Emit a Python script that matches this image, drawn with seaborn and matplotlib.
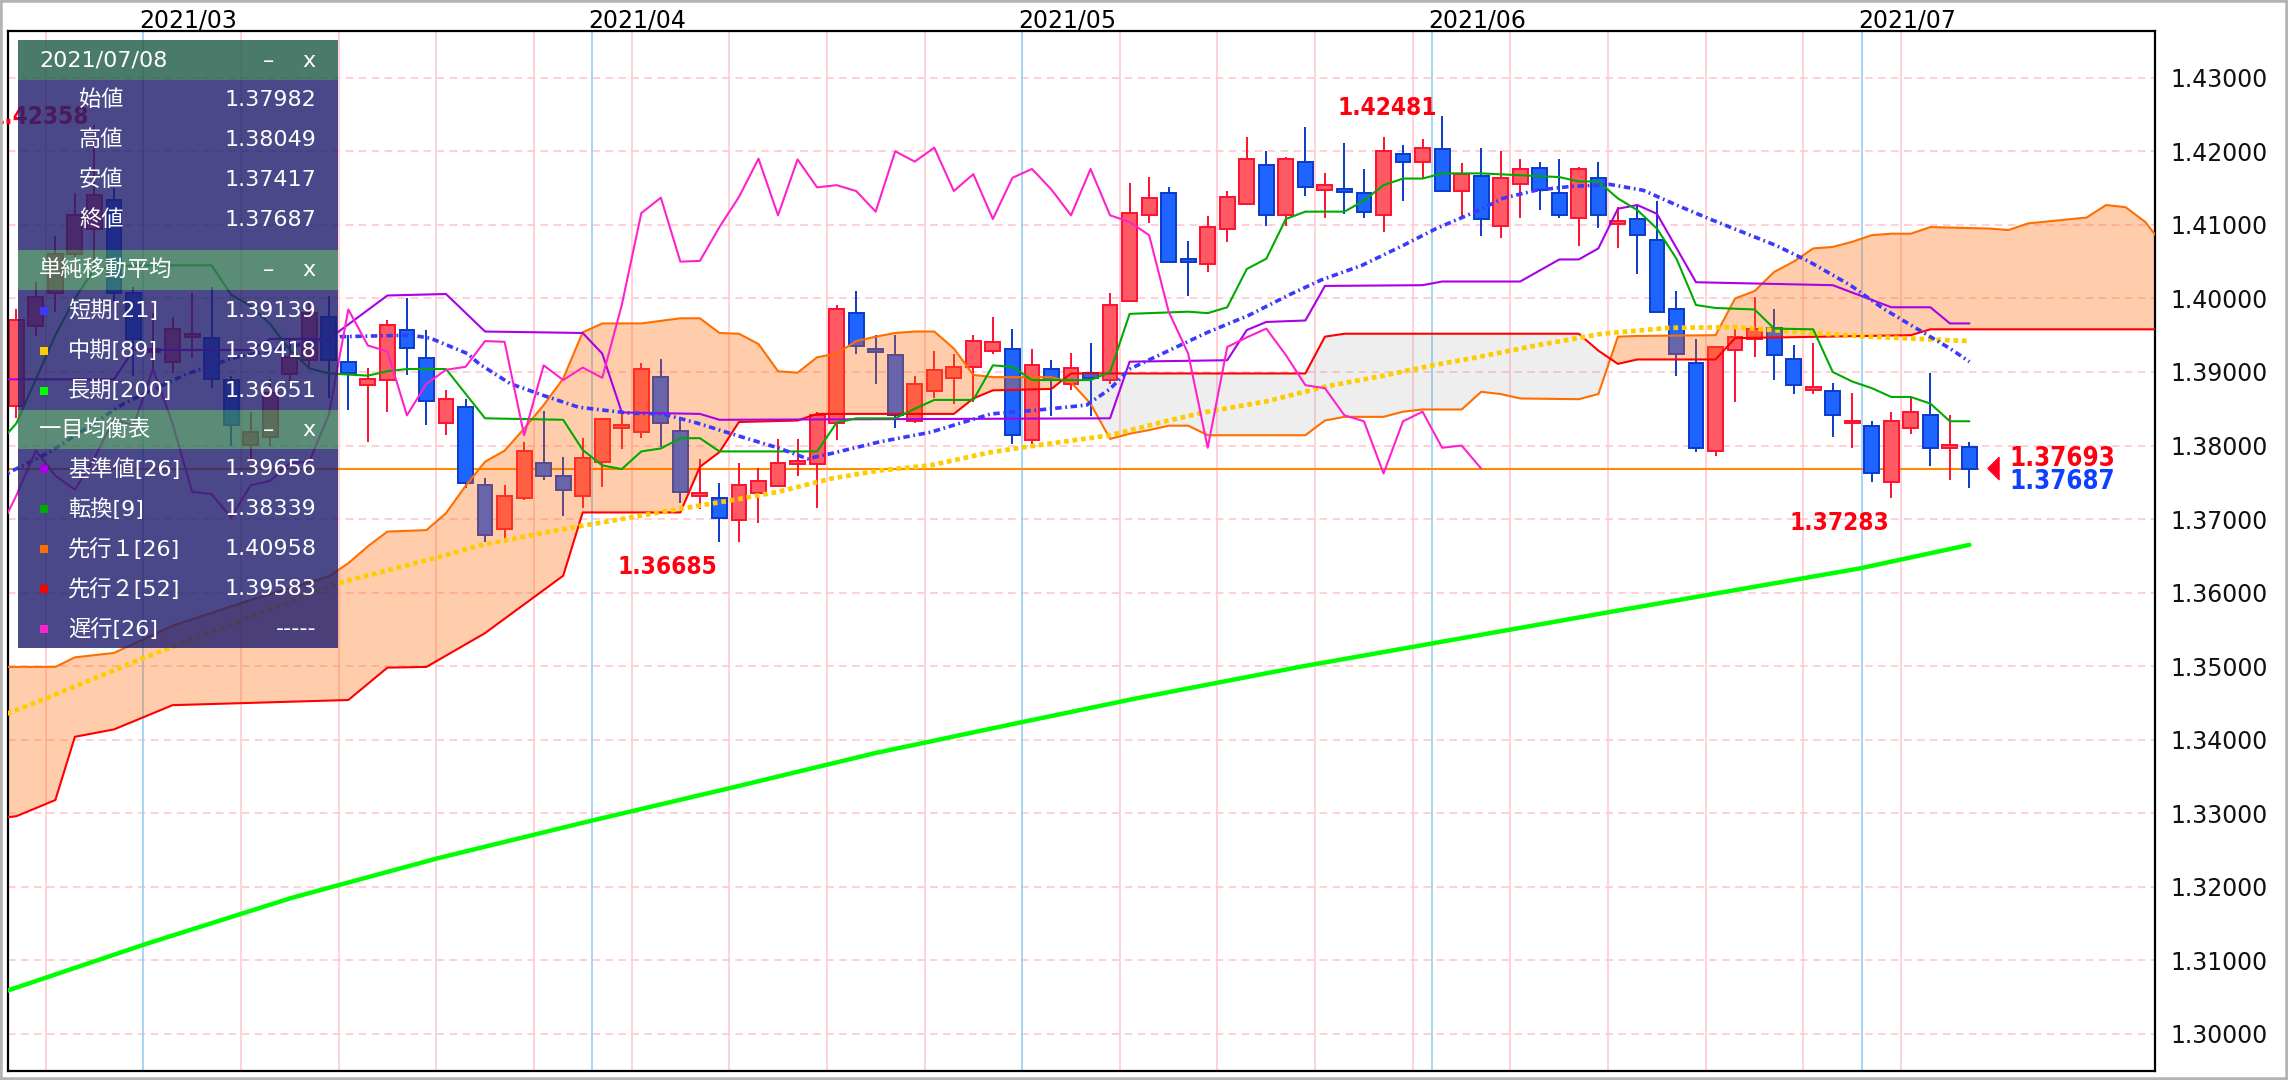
import numpy as np
import pandas as pd
import matplotlib
matplotlib.use("Agg")
import matplotlib.pyplot as plt
from matplotlib.patches import Rectangle
from matplotlib.path import Path
from matplotlib.ticker import FormatStrFormatter
from matplotlib.transforms import blended_transform_factory
import seaborn as sns

# ---------------- data (daily candles, 2021-02-18 .. 2021-07-08) ----------------
dates = pd.bdate_range("2021-02-18", "2021-07-08")

opens = [
    1.3854, 1.3963, 1.4008, 1.4060, 1.4095, 1.4134, 1.4008, 1.3927, 1.3914, 1.3948,
    1.3946, 1.3889, 1.3801, 1.3811, 1.3897, 1.3916, 1.3975, 1.3913, 1.3882, 1.3889,
    1.3957, 1.3919, 1.3831, 1.3853, 1.3746, 1.3686, 1.3729, 1.3776, 1.3759, 1.3731,
    1.3778, 1.3825, 1.3818, 1.3893, 1.3820, 1.3733, 1.3729, 1.3699, 1.3735, 1.3745,
    1.3776, 1.3775, 1.3831, 1.3980, 1.3930, 1.3923, 1.3833, 1.3874, 1.3892, 1.3907,
    1.3928, 1.3931, 1.3808, 1.3904, 1.3883, 1.3898, 1.3889, 1.3996, 1.4113, 1.4143,
    1.4052, 1.4047, 1.4094, 1.4129, 1.4181, 1.4113, 1.4186, 1.4148, 1.4147, 1.4143,
    1.4113, 1.4197, 1.4186, 1.4203, 1.4146, 1.4167, 1.4099, 1.4156, 1.4178, 1.4143,
    1.4110, 1.4164, 1.4102, 1.4108, 1.4080, 1.3985, 1.3912, 1.3792, 1.3930, 1.3945,
    1.3960, 1.3917, 1.3876, 1.3874, 1.3831, 1.3827, 1.3750, 1.3824, 1.3841, 1.3798,
    1.37982]
highs = [
    1.3986, 1.4022, 1.4085, 1.4143, 1.42358, 1.4150, 1.4016, 1.3980, 1.3975, 1.4007,
    1.4016, 1.3895, 1.3845, 1.3890, 1.3945, 1.3995, 1.4003, 1.3950, 1.3905, 1.3971,
    1.4000, 1.3957, 1.3876, 1.3863, 1.3756, 1.3746, 1.3805, 1.3847, 1.3784, 1.3810,
    1.3837, 1.3846, 1.3912, 1.3918, 1.3839, 1.3782, 1.3749, 1.3776, 1.3769, 1.3809,
    1.3809, 1.3846, 1.3991, 1.4010, 1.3950, 1.3950, 1.3895, 1.3929, 1.3924, 1.3950,
    1.3975, 1.3959, 1.3931, 1.3916, 1.3926, 1.3940, 1.4008, 1.4157, 1.4165, 1.4152,
    1.4078, 1.4112, 1.4146, 1.4220, 1.4201, 1.4192, 1.4233, 1.4171, 1.4211, 1.4176,
    1.4220, 1.4209, 1.4217, 1.42481, 1.4184, 1.4204, 1.4201, 1.4190, 1.4185, 1.4190,
    1.4179, 1.4185, 1.4124, 1.4127, 1.4133, 1.4010, 1.3945, 1.3936, 1.3963, 1.4002,
    1.3986, 1.3937, 1.3939, 1.3885, 1.3871, 1.3833, 1.3845, 1.3864, 1.3899, 1.3841,
    1.38049]
lows = [
    1.3837, 1.3949, 1.3982, 1.4040, 1.4046, 1.3995, 1.3895, 1.3898, 1.3898, 1.3919,
    1.3878, 1.3799, 1.3780, 1.3800, 1.3880, 1.3905, 1.3864, 1.3848, 1.3805, 1.3846,
    1.3896, 1.3828, 1.3814, 1.3742, 1.3669, 1.3670, 1.3726, 1.3753, 1.3704, 1.3715,
    1.3744, 1.3795, 1.3810, 1.3798, 1.3722, 1.3714, 1.36685, 1.3669, 1.3694, 1.3744,
    1.3758, 1.3715, 1.3807, 1.3925, 1.3883, 1.3824, 1.3830, 1.3865, 1.3857, 1.3859,
    1.3925, 1.3802, 1.3802, 1.3840, 1.3875, 1.3840, 1.3883, 1.3996, 1.4103, 1.4050,
    1.4003, 1.4036, 1.4077, 1.4129, 1.4099, 1.4099, 1.4139, 1.4109, 1.4115, 1.4109,
    1.4090, 1.4133, 1.4163, 1.4146, 1.4108, 1.4085, 1.4082, 1.4109, 1.4120, 1.4110,
    1.4071, 1.4096, 1.4069, 1.4033, 1.3982, 1.3895, 1.3791, 1.3786, 1.3859, 1.3921,
    1.3889, 1.3870, 1.3870, 1.3812, 1.3797, 1.3750, 1.37283, 1.3816, 1.3772, 1.3753,
    1.37417]
closes = [
    1.3971, 1.4002, 1.4060, 1.4114, 1.4140, 1.4008, 1.3945, 1.3931, 1.3959, 1.3952,
    1.3891, 1.3828, 1.3819, 1.3871, 1.3920, 1.3980, 1.3916, 1.3898, 1.3891, 1.3964,
    1.3932, 1.3861, 1.3863, 1.3749, 1.3678, 1.3732, 1.3793, 1.3759, 1.3740, 1.3783,
    1.3836, 1.3827, 1.3904, 1.3830, 1.3737, 1.3734, 1.3702, 1.3746, 1.3752, 1.3776,
    1.3778, 1.3842, 1.3985, 1.3936, 1.3928, 1.3841, 1.3884, 1.3903, 1.3907, 1.3942,
    1.3941, 1.3814, 1.3909, 1.3889, 1.3906, 1.3892, 1.3991, 1.4116, 1.4137, 1.4050,
    1.4051, 1.4097, 1.4138, 1.4190, 1.4113, 1.4189, 1.4151, 1.4154, 1.4146, 1.4118,
    1.4200, 1.4186, 1.4205, 1.4146, 1.4169, 1.4108, 1.4164, 1.4176, 1.4148, 1.4113,
    1.4176, 1.4113, 1.4104, 1.4086, 1.3982, 1.3925, 1.3797, 1.3934, 1.3947, 1.3959,
    1.3923, 1.3882, 1.3878, 1.3841, 1.3833, 1.3762, 1.3833, 1.3846, 1.3797, 1.3800,
    1.37687]

# indicator lines, x = trading-day index (0 = 2021-02-18)
sma21_x = [-1, 1.7, 5.5, 8.7, 11.1, 16.6, 20.2, 21.2, 23.1, 23.7, 25.3, 27, 28.8, 31.4, 33.1,
           34.8, 37.1, 39.1, 40.5, 41.7, 44.2, 46.8, 49.9, 52.2, 54.8, 56, 57, 59, 61, 63.1,
           65.1, 66.8, 68.9, 71, 72.7, 74.9, 76.1, 77.8, 79.5, 81.6, 83.3, 85, 86.7, 88.4,
           90.1, 91.8, 93.9, 95.6, 97.3, 99, 100]
sma21_y = [1.3755, 1.3791, 1.3857, 1.3897, 1.3919, 1.3948, 1.3950, 1.3946, 1.3925, 1.3911,
           1.3884, 1.3868, 1.3852, 1.3844, 1.3843, 1.3831, 1.3812, 1.3796, 1.3782, 1.3789,
           1.3805, 1.3818, 1.3843, 1.3848, 1.3855, 1.3877, 1.3904, 1.3929, 1.3954, 1.3977,
           1.4004, 1.4025, 1.4045, 1.4072, 1.4095, 1.4120, 1.4136, 1.4147, 1.4152, 1.4155,
           1.4147, 1.4127, 1.4108, 1.4090, 1.4072, 1.4050, 1.4018, 1.3986, 1.3959, 1.3932,
           1.3914]
sma89_x = [-1, 1.5, 6.5, 16.5, 22, 23.7, 27.7, 34, 36.5, 39, 41.7, 44.2, 46.8, 49.9, 52.2,
           56, 59, 61, 64, 67, 70, 72.5, 74.6, 77.8, 81.2, 84.6, 88, 91.4, 94.8, 100]
sma89_y = [1.3430, 1.3456, 1.3511, 1.3613, 1.3651, 1.3664, 1.3685, 1.3714, 1.3725, 1.3737,
           1.3755, 1.3766, 1.3773, 1.3791, 1.3800, 1.3814, 1.3834, 1.3846, 1.3860, 1.3880,
           1.3895, 1.3909, 1.3919, 1.3936, 1.3952, 1.3960, 1.3961, 1.3954, 1.3948, 1.3942]
sma200_x = [-1, 6.6, 14.1, 21.6, 29.3, 36.5, 44, 51.5, 57.3, 65.7, 82.3, 94.4, 100]
sma200_y = [1.3054, 1.3122, 1.3185, 1.3239, 1.3289, 1.3334, 1.3382, 1.3424, 1.3456, 1.3499,
            1.3577, 1.3633, 1.3665]
kijun_x = [-1, 5, 6, 12, 13, 16, 19, 22, 24, 29, 30, 31, 35, 36, 56, 57, 62, 63, 64, 66, 67,
           72, 73, 77, 79, 80, 81, 82, 83, 84, 86, 93, 96, 98, 99, 100]
kijun_y = [1.3890, 1.3890, 1.3930, 1.3930, 1.3945, 1.3945, 1.4004, 1.4006, 1.3955, 1.3953,
           1.3925, 1.3845, 1.3843, 1.3835, 1.3837, 1.3914, 1.3916, 1.3957, 1.3968, 1.3970,
           1.4017, 1.4018, 1.4023, 1.4023, 1.4053, 1.4053, 1.4068, 1.4122, 1.4127, 1.4115,
           1.4022, 1.4018, 1.3988, 1.3988, 1.3966, 1.3966]
tenkan_x = [-1, 0, 1, 2, 3, 4, 6, 10, 11, 12, 13, 14, 15, 16, 18, 19, 20, 22, 24, 28, 29, 30,
            31, 32, 33, 34, 35, 36, 41, 42, 43, 45, 46, 47, 49, 50, 51, 52, 55, 56, 57, 60,
            61, 62, 63, 64, 65, 66, 68, 69, 70, 71, 72, 73, 75, 79, 80, 81, 82, 83, 84, 85,
            86, 87, 88, 89, 90, 92, 93, 94, 95, 96, 97, 98, 99, 100]
tenkan_y = [1.3800, 1.3830, 1.3890, 1.3950, 1.4000, 1.4040, 1.4045, 1.4045, 1.4005, 1.3990,
            1.3965, 1.3930, 1.3905, 1.3898, 1.3895, 1.3901, 1.3904, 1.3904, 1.3837, 1.3835,
            1.3794, 1.3773, 1.3768, 1.3792, 1.3796, 1.3810, 1.3810, 1.3792, 1.3792, 1.3831,
            1.3837, 1.3837, 1.3850, 1.3862, 1.3862, 1.3909, 1.3907, 1.3889, 1.3889, 1.3900,
            1.3979, 1.3982, 1.3980, 1.3988, 1.4040, 1.4054, 1.4108, 1.4118, 1.4118, 1.4133,
            1.4154, 1.4163, 1.4163, 1.4170, 1.4170, 1.4165, 1.4159, 1.4159, 1.4136, 1.4120,
            1.4095, 1.4054, 1.3991, 1.3987, 1.3986, 1.3985, 1.3959, 1.3958, 1.3900, 1.3887,
            1.3878, 1.3866, 1.3866, 1.3857, 1.3833, 1.3833]
span_a_x = [-1, 2, 3, 5, 8, 12, 16, 17, 18, 19, 21, 22, 23, 24, 25, 26, 27, 28, 29, 30, 32,
            34, 35, 36, 37, 38, 39, 40, 41, 42, 43, 44, 45, 46, 47, 48, 49, 50, 53, 54, 55,
            56, 57, 58, 59, 60, 61, 66, 67, 68, 70, 71, 72, 74, 75, 76, 77, 80, 81, 82, 83,
            87, 88, 89, 90, 91, 92, 93, 94, 95, 96, 97, 98, 101, 102, 103, 106, 107, 108,
            109, 110]
span_a_y = [1.3499, 1.3499, 1.3512, 1.3518, 1.3555, 1.3590, 1.3622, 1.3640, 1.3663, 1.3683,
            1.3685, 1.3708, 1.3745, 1.3778, 1.3793, 1.3823, 1.3855, 1.3891, 1.3954, 1.3966,
            1.3966, 1.3973, 1.3973, 1.3953, 1.3952, 1.3938, 1.3901, 1.3899, 1.3920, 1.3925,
            1.3942, 1.3948, 1.3953, 1.3955, 1.3955, 1.3932, 1.3896, 1.3893, 1.3893, 1.3886,
            1.3857, 1.3809, 1.3816, 1.3821, 1.3827, 1.3827, 1.3814, 1.3814, 1.3834, 1.3839,
            1.3839, 1.3846, 1.3849, 1.3849, 1.3873, 1.3870, 1.3864, 1.3863, 1.3870, 1.3948,
            1.3949, 1.3950, 1.4000, 1.4010, 1.4036, 1.4050, 1.4068, 1.4070, 1.4077, 1.4086,
            1.4088, 1.4088, 1.4097, 1.4095, 1.4093, 1.4102, 1.4110, 1.4127, 1.4124, 1.4104,
            1.4070]
span_b_x = [-1, 0, 2, 3, 5, 8, 17, 19, 21, 24, 28, 29, 34, 35, 36, 37, 40, 41, 48, 49, 50,
            53, 54, 66, 67, 68, 80, 81, 82, 83, 87, 88, 97, 98, 110]
span_b_y = [1.3293, 1.3296, 1.3318, 1.3404, 1.3414, 1.3447, 1.3454, 1.3498, 1.3499, 1.3545,
            1.3623, 1.3709, 1.3709, 1.3771, 1.3791, 1.3832, 1.3834, 1.3843, 1.3843, 1.3864,
            1.3875, 1.3877, 1.3898, 1.3898, 1.3948, 1.3952, 1.3952, 1.3929, 1.3911, 1.3917,
            1.3917, 1.3946, 1.3950, 1.3958, 1.3958]

bid_price = 1.37693
last_price = 1.37687
extreme_idx = [4, 73, 36, 96]
extreme_val = [1.42358, 1.42481, 1.36685, 1.37283]
extreme_side = ["high", "high", "low", "low"]

panel_date = "2021/07/08"
ohlc_names = ["始値", "高値", "安値", "終値"]
ohlc_values = ["1.37982", "1.38049", "1.37417", "1.37687"]
sma_names = ["短期[21]", "中期[89]", "長期[200]"]
sma_values = ["1.39139", "1.39418", "1.36651"]
ichi_names = ["基準値[26]", "転換[9]", "先行１[26]", "先行２[52]", "遅行[26]"]
ichi_values = ["1.39656", "1.38339", "1.40958", "1.39583", "-----"]

# ---------------- styling ----------------
C_SMA21, C_SMA89, C_SMA200 = "#3a3aff", "#ffcc00", "#00ff00"
C_KIJUN, C_TENKAN, C_SPANA, C_SPANB, C_CHIKOU = "#aa00e6", "#00aa00", "#ff6e00", "#ff0000", "#ff22cc"

W, H = 2288, 1080
sns.set_theme(style="white")
plt.rcParams["font.family"] = ["DejaVu Sans", "Noto Sans CJK JP"]

fig = plt.figure(figsize=(W / 100, H / 100), dpi=100, facecolor="white")
ax = fig.add_axes([8 / W, 1 - 1071 / H, 2147 / W, 1040 / H])
ax.set_facecolor("white")

day = np.arange(len(dates))
o, h, l, c = map(np.asarray, (opens, highs, lows, closes))


def line(xs, ys, **kw):
    sns.lineplot(x=xs, y=ys, ax=ax, estimator=None, sort=False, legend=False, **kw)


# grid: dashed price levels, weekly and monthly separators
for yv in np.arange(1.30, 1.435, 0.01):
    ax.axhline(yv, color="#ffc4cc", lw=1.1, ls=(0, (5, 3.5)), zorder=0.5)
dser = pd.Series(dates)
month_start = np.flatnonzero(dser.dt.month.diff().fillna(0).to_numpy() != 0)
mondays = np.flatnonzero(dser.dt.dayofweek.to_numpy() == 0)
for i in mondays:
    if i not in month_start:
        ax.axvline(i - 0.5, color="#ffc6cc", lw=1.1, zorder=0.6)
top = blended_transform_factory(ax.transData, ax.transAxes)
for i in month_start:
    ax.axvline(i - 0.5, color="#8ecbf2", lw=1.1, zorder=0.6)
    ax.annotate(dates[i].strftime("%Y/%m"), xy=(i - 0.5, 1), xycoords=top,
                xytext=(-4, 3), textcoords="offset pixels", ha="left", va="baseline",
                fontsize=17, color="black", annotation_clip=False)

# current price line
ax.hlines(last_price, -1, len(dates) - 0.5, color="#ff8c00", lw=1.5, zorder=1.5)

# candles
up = c >= o
lo = np.minimum(o, c)
ht = np.abs(c - o)
doji = ht < 0.0004
lo = np.where(doji, (o + c) / 2 - 0.0002, lo)
ht = np.where(doji, 0.0004, ht)
for mask, face, edge in [(up, "#ff5a64", "#ff1030"), (~up, "#1e64ff", "#0a3acc")]:
    ax.vlines(day[mask], l[mask], h[mask], color=edge, lw=1.4, zorder=2)
    ax.bar(day[mask], ht[mask], bottom=lo[mask], width=0.76, color=face,
           edgecolor=edge, linewidth=1.4, zorder=2.1)

# ichimoku cloud
gx = np.union1d(span_a_x, span_b_x)
ga = np.interp(gx, span_a_x, span_a_y)
gb = np.interp(gx, span_b_x, span_b_y)
ax.fill_between(gx, ga, gb, where=ga >= gb, interpolate=True, color="#ff6a00",
                alpha=0.33, lw=0, zorder=2.5)
ax.fill_between(gx, ga, gb, where=ga < gb, interpolate=True, color="#8a8a8a",
                alpha=0.14, lw=0, zorder=2.5)

line(span_a_x, span_a_y, color=C_SPANA, lw=1.5, zorder=3)
line(span_b_x, span_b_y, color=C_SPANB, lw=1.5, zorder=3)
line(sma200_x, sma200_y, color=C_SMA200, lw=3.2, zorder=3)
line(sma89_x, sma89_y, color=C_SMA89, lw=3.4, linestyle=(0, (1, 0.8)), zorder=3.2)
line(kijun_x, kijun_y, color=C_KIJUN, lw=1.5, zorder=3.3)
line(tenkan_x, tenkan_y, color=C_TENKAN, lw=1.5, zorder=3.3)
line(sma21_x, sma21_y, color=C_SMA21, lw=2.6, linestyle=(0, (1.8, 1.0, 0.5, 1.0)), zorder=3.4)
chikou_x = day - 25
keep = chikou_x >= -1
line(chikou_x[keep], c[keep], color=C_CHIKOU, lw=1.5, zorder=3.5)

# high / low labels
bold = dict(family="DejaVu Sans", weight="bold", stretch="condensed", size=17.5)
for idx, val, side in zip(extreme_idx, extreme_val, extreme_side):
    off = (-5, 1) if side == "high" else (-2, -32)
    t = ax.annotate(f"{val:.5f}", xy=(idx, val), xytext=off, textcoords="offset pixels",
                    ha="right", va="baseline", color="#ff0010", zorder=4, **bold)
    t.set_clip_on(True)

# price marker and labels on the right
tri = Path([(0.5, 1), (-0.5, 0), (0.5, -1), (0.5, 1)], [1, 2, 2, 79])
tri_x = len(dates) + 0.2
ax.plot([tri_x], [bid_price], marker=tri, ms=16, color="#ff0020", lw=0, clip_on=False, zorder=5)
big = dict(bold, size=18.5)
ax.annotate(f"{bid_price:.5f}", xy=(tri_x, bid_price), xytext=(16, 2), textcoords="offset pixels",
            ha="left", va="baseline", color="#ff0010", **big)
ax.annotate(f"{last_price:.5f}", xy=(tri_x, bid_price), xytext=(16, -21), textcoords="offset pixels",
            ha="left", va="baseline", color="#1040ff", **big)

# axes
ax.set_xlim(-0.425, 109.5)
ax.set_ylim(1.29496, 1.43636)
ax.set_xticks([])
ax.set_yticks(np.round(np.arange(1.30, 1.435, 0.01), 2))
ax.yaxis.set_major_formatter(FormatStrFormatter("%.5f"))
ax.yaxis.tick_right()
ax.tick_params(axis="y", length=0, pad=11, labelsize=17, labelcolor="#111111")
ax.set_xlabel("")
ax.set_ylabel("")
for sp in ax.spines.values():
    sp.set_visible(True)
    sp.set_color("black")
    sp.set_linewidth(1.6)

# ---------------- info panel ----------------
pax = fig.add_axes([18.3 / W, 1 - 648 / H, 319.4 / W, 607.6 / H])
pax.set_xlim(18.3, 337.7)
pax.set_ylim(648, 40.4)
pax.axis("off")
HEAD1, HEAD, BODY = "#225d49", "#36735a", "#22206e"
for y0, y1, col in [(40.4, 80, HEAD1), (80, 250, BODY), (250, 289.6, HEAD),
                    (289.6, 410, BODY), (410, 449.5, HEAD), (449.5, 648, BODY)]:
    pax.add_patch(Rectangle((18.3, y0), 319.4, y1 - y0, facecolor=col, alpha=0.82, lw=0))

ptxt = dict(color="white", fontsize=16, va="center",
            family=["DejaVu Sans", "Noto Sans CJK JP"])
for yc, title in [(61, panel_date), (270, "単純移動平均"), (430, "一目均衡表")]:
    pax.text(39, yc, title, ha="left", **ptxt)
    pax.text(268, yc, "–", ha="center", **ptxt)
    pax.text(308.5, yc, "x", ha="center", **ptxt)

for k, (name, val) in enumerate(zip(ohlc_names, ohlc_values)):
    yc = 100 + 40 * k
    pax.text(79, yc, name, ha="left", **ptxt)
    pax.text(316.7, yc, val, ha="right", **ptxt)

rows = [(310.6, sma_names, sma_values, [C_SMA21, C_SMA89, C_SMA200]),
        (469.3, ichi_names, ichi_values, [C_KIJUN, C_TENKAN, C_SPANA, C_SPANB, C_CHIKOU])]
for y_start, names, values, colors in rows:
    for k, (name, val, col) in enumerate(zip(names, values, colors)):
        yc = y_start + 40 * k
        pax.add_patch(Rectangle((40, yc - 4), 8, 8, facecolor=col, lw=0))
        pax.text(68.3, yc, name, ha="left", **ptxt)
        pax.text(316.7, yc, val, ha="right", **ptxt)

# thin grey frame around the whole picture
fig.add_artist(Rectangle((0, 0), 1, 1, transform=fig.transFigure, fill=False,
                         ec="#b4b4b4", lw=4))

fig.savefig("out.png", dpi=100, facecolor="white")
